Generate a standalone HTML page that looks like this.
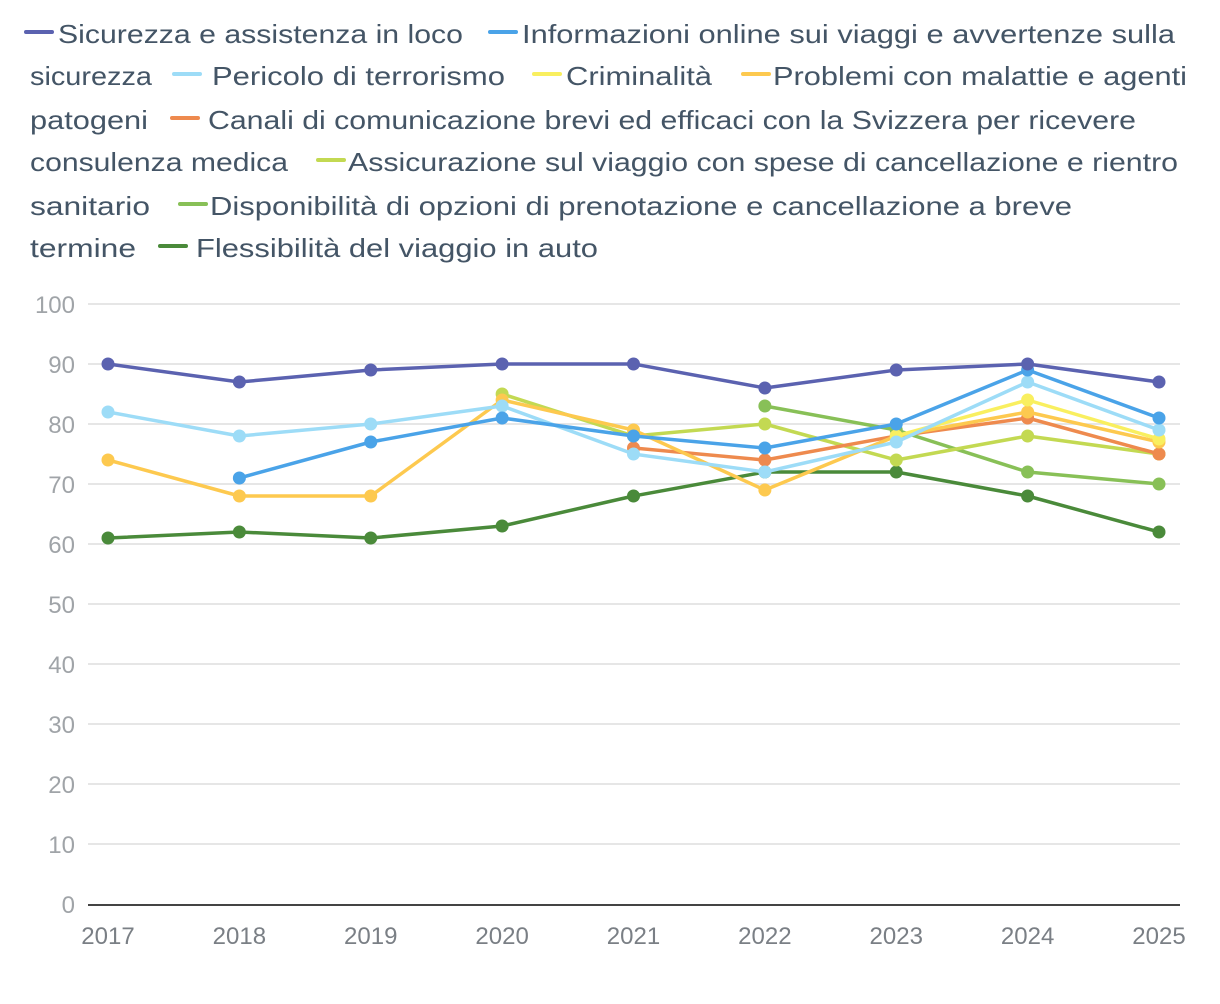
<!DOCTYPE html>
<html><head><meta charset="utf-8"><style>
html,body{margin:0;padding:0;background:#fff;}
svg{display:block;font-family:"Liberation Sans",sans-serif;}
</style></head><body>
<svg id="chart" width="1220" height="1004" viewBox="0 0 1220 1004">
<g id="legend" fill="#445566" font-size="26"></g>
<g id="grid"></g>
<g id="series"></g>
<g id="axes"></g>
</svg>
<script>
const years = ['2017','2018','2019','2020','2021','2022','2023','2024','2025'];
const yTicks = [0,10,20,30,40,50,60,70,80,90,100];
const sicurezza = [90,87,89,90,90,86,89,90,87];
const informazioni = [null,71,77,81,78,76,80,89,81];
const terrorismo = [82,78,80,83,75,72,77,87,79];
const criminalita = [null,null,null,null,null,null,78,84,77.5];
const malattie = [74,68,68,84,79,69,78,82,77];
const canali = [null,null,null,null,76,74,78,81,75];
const assicurazione = [null,null,null,85,78,80,74,78,75];
const disponibilita = [null,null,null,null,null,83,79,72,70];
const flessibilita = [61,62,61,63,68,72,72,68,62];
const seriesNames = ['sicurezza','informazioni','terrorismo','criminalita','malattie','canali','assicurazione','disponibilita','flessibilita'];
const seriesData = [sicurezza,informazioni,terrorismo,criminalita,malattie,canali,assicurazione,disponibilita,flessibilita];
const colors = ['#5b62b0','#4aa3e8','#9ddcf7','#f9ef5f','#fdc94f','#ee8a4e','#c3d952','#88c057','#4a8a3a'];
const drawOrder = [8,7,6,5,4,3,2,1,0];

const NS='http://www.w3.org/2000/svg';
function mk(tag,attrs,parent){const e=document.createElementNS(NS,tag);for(const k in attrs)e.setAttribute(k,attrs[k]);parent.appendChild(e);return e;}
const x0=108,x1=1159,yTop=304,yBot=904;
function xs(i){return x0+(x1-x0)*i/(years.length-1);}
function ys(v){return yBot-(v/100)*(yBot-yTop);}

const grid=document.getElementById('grid'), axes=document.getElementById('axes'), ser=document.getElementById('series');
yTicks.forEach(t=>{
  if(t>0){const l=mk('line',{x1:88,x2:1180,y1:ys(t),y2:ys(t),stroke:'#e6e6e6','stroke-width':2},grid);
  
  }
  const tx=mk('text',{x:75,y:ys(t)+9,'text-anchor':'end','font-size':24,fill:'#a0a4a8'},axes);
  tx.textContent=t;
  
  
});
const ax=mk('line',{x1:88,x2:1180,y1:yBot+1,y2:yBot+1,stroke:'#444',"stroke-width":2},axes);


years.forEach((y,i)=>{
  const tx=mk('text',{x:xs(i),y:944,'text-anchor':'middle','font-size':24,fill:'#7a7f85'},axes);
  tx.textContent=y;
  
  
});
drawOrder.forEach(s=>{
  const d=seriesData[s];const g=mk('g',{},ser);
  
  
  let path='';let pen=false;
  d.forEach((v,i)=>{if(v==null){pen=false;return;}path+=(pen?'L':'M')+xs(i)+' '+ys(v)+' ';pen=true;});
  const p=mk('path',{d:path,fill:'none',stroke:colors[s],'stroke-width':3.5,'stroke-linejoin':'round'},g);
  
  
  d.forEach((v,i)=>{if(v==null)return;
    const c=mk('circle',{cx:xs(i),cy:ys(v),r:6.5,fill:colors[s]},g);
    
    });
});

const legend=document.getElementById('legend');
const legendItems=[
 // [text, xStart, xEnd, baseline, iconColorIndex or -1, iconX]
 ['Sicurezza e assistenza in loco',58,463,42,0,26],
 ['Informazioni online sui viaggi e avvertenze sulla',522,1175,42,1,490],
 ['sicurezza',30,152,84,-1,0],
 ['Pericolo di terrorismo',212,505,84,2,174],
 ['Criminalità',566,712,84,3,534],
 ['Problemi con malattie e agenti',773,1187,84,4,743],
 ['patogeni',30,148,128,-1,0],
 ['Canali di comunicazione brevi ed efficaci con la Svizzera per ricevere',208,1136,128,5,172],
 ['consulenza medica',30,288,170,-1,0],
 ['Assicurazione sul viaggio con spese di cancellazione e rientro',348,1178,170,6,318],
 ['sanitario',30,150,214,-1,0],
 ['Disponibilità di opzioni di prenotazione e cancellazione a breve',210,1072,214,7,180],
 ['termine',30,136,256,-1,0],
 ['Flessibilità del viaggio in auto',196,598,256,8,160]
];
legendItems.forEach((it,k)=>{
  if(it[4]>=0){const l=mk('line',{x1:it[5],x2:it[5]+26,y1:it[3]-10,y2:it[3]-10,stroke:colors[it[4]],'stroke-width':4,'stroke-linecap':'round'},legend);
   
   }
  const t=mk('text',{x:it[1],y:it[3]+1,textLength:it[2]-it[1],lengthAdjust:'spacingAndGlyphs'},legend);
  t.textContent=it[0];
  
  
});
</script>
</body></html>
